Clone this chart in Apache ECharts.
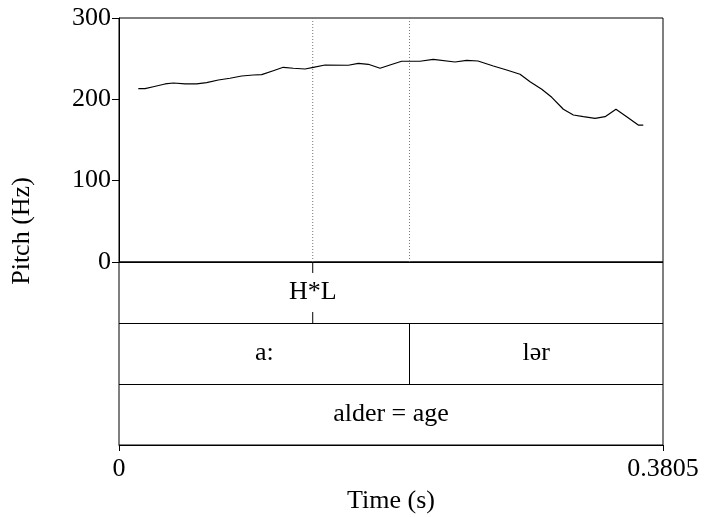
<!DOCTYPE html>
<html>
<head>
<meta charset="utf-8">
<script src="https://cdn.jsdelivr.net/npm/echarts@6/dist/echarts.min.js"></script>
<style>html,body{margin:0;padding:0;background:#fff}#c{width:704px;height:517px}</style>
</head>
<body>
<div id="c"></div>
<script>
// ---- data ----
const totalDuration = 0.3805;
const pitchTime = [0.0135,0.0182,0.0240,0.0322,0.0380,0.0462,0.0543,0.0613,0.0695,0.0776,0.0858,0.0939,0.0998,0.1079,0.1149,0.1219,0.1301,0.1359,0.1441,0.1604,0.1674,0.1744,0.1826,0.1895,0.1977,0.2105,0.2198,0.2350,0.2432,0.2511,0.2618,0.2712,0.2805,0.2875,0.2957,0.3027,0.3108,0.3178,0.3248,0.3330,0.3400,0.3476,0.3551,0.3632,0.3667];
const pitchHz = [213.1,213.1,215.5,218.9,220.1,218.9,218.9,220.5,223.8,225.9,228.7,229.9,230.3,235.2,239.4,238.2,237.3,239.2,242.2,241.9,244.3,243.1,238.2,242.2,246.8,246.8,249.2,245.9,248.0,247.1,241.0,236.1,230.8,221.7,212.3,202.5,187.8,180.7,178.7,176.7,178.7,187.8,178.7,168.4,168.4];
const yTicks = [0, 100, 200, 300];
const xTickLabels = ['0', '0.3805'];
const pointTierTimes = [0.1355];
const pointTierLabels = ['H*L'];
const phoneBounds = [0, 0.2032, 0.3805];
const phoneLabels = ['a:', 'lər'];
const wordBounds = [0, 0.3805];
const wordLabels = ['alder = age'];

// ---- build ----
const FONT = 'Liberation Serif';
const FS = 26;
const chart = echarts.init(document.getElementById('c'), null, {renderer: 'canvas'});
const series = [];

series.push({
  type: 'line', xAxisIndex: 0, yAxisIndex: 0, symbol: 'none',
  data: pitchTime.map((t, i) => [t, pitchHz[i]]),
  lineStyle: {color: '#000', width: 1.2}, silent: true
});

// dotted guide lines in pitch panel
const guideTimes = pointTierTimes.concat(phoneBounds.slice(1, -1));
guideTimes.forEach(t => {
  series.push({
    type: 'line', xAxisIndex: 0, yAxisIndex: 0, symbol: 'none',
    data: [[t, yTicks[0]], [t, yTicks[yTicks.length - 1]]],
    lineStyle: {color: '#777', width: 1, type: [1, 2]}, silent: true
  });
});

// tier y positions (grid 2: 0..3, top tier = 2..3)
const tierTop = i => 3 - i;
const tierMid = i => 3 - i - 0.5;
const segLen = 0.18;

// point tier markers
pointTierTimes.forEach(t => {
  series.push({type: 'line', xAxisIndex: 1, yAxisIndex: 1, symbol: 'none',
    data: [[t, tierTop(0)], [t, tierTop(0) - segLen]], lineStyle: {color: '#000', width: 1}, silent: true});
  series.push({type: 'line', xAxisIndex: 1, yAxisIndex: 1, symbol: 'none',
    data: [[t, tierTop(0) - 1 + segLen], [t, tierTop(0) - 1]], lineStyle: {color: '#000', width: 1}, silent: true});
});

// interval boundaries
[[phoneBounds, 1], [wordBounds, 2]].forEach(([b, ti]) => {
  b.slice(1, -1).forEach(t => {
    series.push({type: 'line', xAxisIndex: 1, yAxisIndex: 1, symbol: 'none',
      data: [[t, tierTop(ti)], [t, tierTop(ti) - 1]], lineStyle: {color: '#000', width: 1}, silent: true});
  });
});

// labels
const labelData = [];
pointTierTimes.forEach((t, i) => labelData.push([t, tierMid(0), pointTierLabels[i]]));
phoneLabels.forEach((l, i) => labelData.push([(phoneBounds[i] + phoneBounds[i + 1]) / 2, tierMid(1), l]));
wordLabels.forEach((l, i) => labelData.push([(wordBounds[i] + wordBounds[i + 1]) / 2, tierMid(2), l]));
series.push({
  type: 'scatter', xAxisIndex: 1, yAxisIndex: 1, symbolSize: 0, silent: true,
  itemStyle: {opacity: 1},
  data: labelData,
  label: {show: true, position: 'inside', formatter: p => p.data[2], color: '#000', opacity: 1,
    fontFamily: FONT, fontSize: FS, backgroundColor: '#fff', padding: [0, 1]}
});

chart.setOption({
  animation: false,
  backgroundColor: '#fff',
  textStyle: {fontFamily: FONT},
  grid: [
    {left: 119, right: 41, top: 18, height: 244, show: true, borderColor: '#000', borderWidth: 1, backgroundColor: 'transparent'},
    {left: 119, right: 41, top: 262, height: 183, show: true, borderColor: '#000', borderWidth: 1, backgroundColor: 'transparent'}
  ],
  xAxis: [
    {type: 'value', gridIndex: 0, min: 0, max: totalDuration, show: false},
    {type: 'value', gridIndex: 1, min: 0, max: totalDuration, interval: totalDuration,
      axisLine: {show: true, lineStyle: {color: '#000', width: 1}},
      axisTick: {show: true, length: 6, inside: false, lineStyle: {color: '#000'}},
      axisLabel: {color: '#000', fontSize: FS, fontFamily: FONT, margin: 11,
        formatter: (v) => Math.abs(v) < 1e-9 ? xTickLabels[0] : xTickLabels[1]},
      splitLine: {show: false},
      name: 'Time (s)', nameLocation: 'middle', nameGap: 43,
      nameTextStyle: {color: '#000', fontSize: FS, fontFamily: FONT}}
  ],
  yAxis: [
    {type: 'value', gridIndex: 0, min: yTicks[0], max: yTicks[yTicks.length - 1], interval: yTicks[1] - yTicks[0],
      axisLine: {show: true, lineStyle: {color: '#000', width: 1}},
      axisTick: {show: true, length: 7, lineStyle: {color: '#000'}},
      axisLabel: {color: '#000', fontSize: FS, fontFamily: FONT, margin: 8},
      splitLine: {show: false}},
    {type: 'value', gridIndex: 1, min: 0, max: 3, interval: 1,
      axisLine: {show: false}, axisTick: {show: false}, axisLabel: {show: false},
      splitLine: {show: true, lineStyle: {color: '#000', width: 1}}}
  ],
  graphic: [{
    type: 'text', x: 22, y: 231, rotation: Math.PI / 2,
    style: {text: 'Pitch (Hz)', fill: '#000', font: FS + 'px "Liberation Serif"', align: 'center', verticalAlign: 'middle'}
  }],
  series: series
});
</script>
</body>
</html>
